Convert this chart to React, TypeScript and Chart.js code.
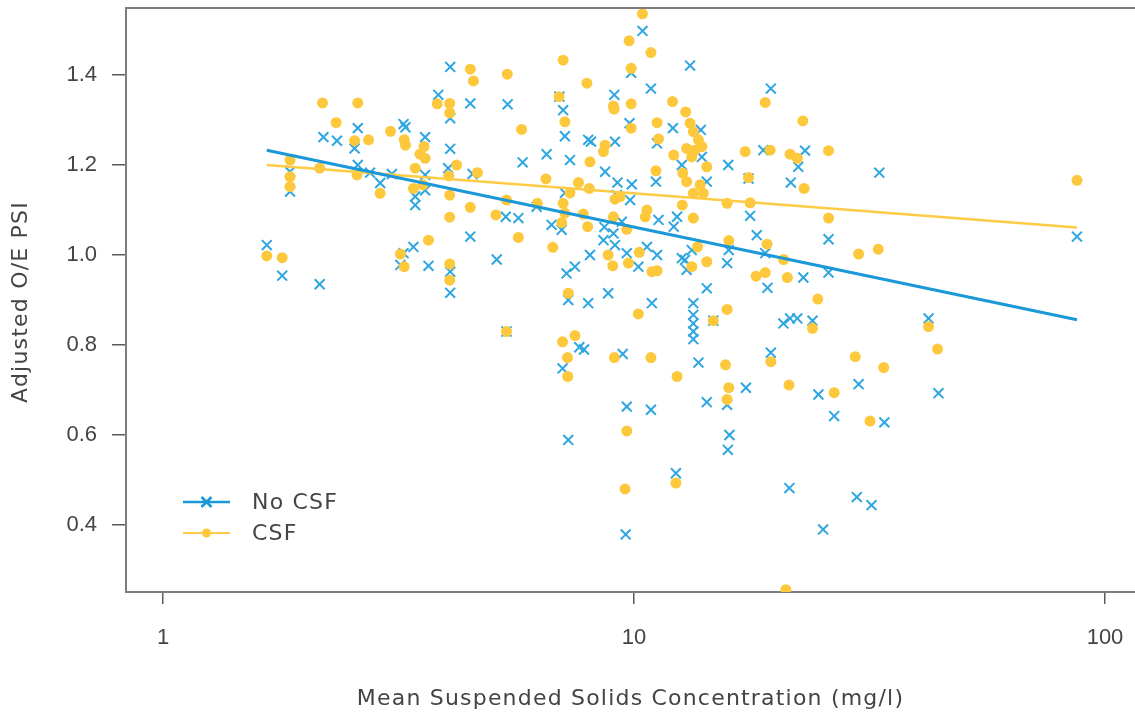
import React, { useEffect, useRef } from "react";
import { Chart, registerables } from "chart.js";

Chart.register(...registerables);

// ---- Data ----
const seriesNames = ["No CSF", "CSF"];

const noCsfX = [
  4.07, 3.84, 4.49, 4.07, 3.27, 3.24, 2.59, 2.19, 2.34, 3.6, 2.55, 4.07, 2.59, 2.75, 3.06, 2.89,
  1.86, 1.86, 3.6, 4.03, 4.54, 3.43, 3.43, 3.6, 4.49, 1.66, 3.4, 3.24, 3.19, 3.66, 1.79, 2.15,
  4.07, 4.07, 10.42, 13.15, 9.86, 10.86, 9.08, 5.39, 6.94, 7.07, 9.78, 12.09, 7.13, 7.99, 8.1,
  9.11, 11.19, 6.52, 7.31, 5.8, 8.68, 9.22, 9.89, 11.13, 12.63, 7.13, 9.81, 9.19, 5.34, 5.68,
  6.21, 6.68, 7.02, 8.65, 9.04, 9.42, 11.27, 12.34, 12.14, 5.11, 8.06, 8.61, 9.11, 9.65, 10.65,
  11.19, 7.49, 7.19, 10.21, 12.63, 12.93, 8.81, 10.91, 13.86, 13.93, 15.85, 18.81, 23.07, 22.32,
  21.52, 33.17, 17.5, 14.27, 17.64, 18.22, 25.88, 15.89, 15.76, 18.99, 13.26, 12.83, 14.27, 19.2,
  22.88, 25.88, 13.36, 19.52, 7.25, 7.99, 13.36, 13.36, 13.36, 13.36, 14.73, 20.75, 21.44, 22.21,
  23.93, 5.36, 7.65, 7.83, 7.05, 9.46, 13.7, 19.52, 24.63, 29.98, 17.28, 15.76, 14.27, 9.65,
  10.86, 7.25, 15.94, 15.82, 26.6, 34.0, 12.27, 21.37, 29.72, 31.93, 9.6, 25.2, 42.2, 44.3, 87.2,
];
const noCsfY = [
  1.418, 1.356, 1.337, 1.304, 1.284, 1.291, 1.282, 1.262, 1.254, 1.262, 1.237, 1.236, 1.2, 1.183,
  1.18, 1.16, 1.185, 1.141, 1.178, 1.193, 1.18, 1.13, 1.111, 1.144, 1.041, 1.022, 1.018, 1.004,
  0.978, 0.976, 0.954, 0.935, 0.963, 0.916, 1.498, 1.421, 1.405, 1.37, 1.356, 1.335, 1.352, 1.322,
  1.293, 1.282, 1.264, 1.256, 1.252, 1.252, 1.248, 1.224, 1.211, 1.206, 1.185, 1.161, 1.157,
  1.163, 1.2, 1.138, 1.122, 1.133, 1.085, 1.082, 1.107, 1.067, 1.056, 1.062, 1.048, 1.074, 1.078,
  1.085, 1.063, 0.99, 1.0, 1.033, 1.022, 1.004, 1.018, 1.0, 0.974, 0.959, 0.974, 0.993, 0.967,
  0.915, 0.893, 1.278, 1.218, 1.2, 1.233, 1.232, 1.196, 1.161, 1.183, 1.17, 1.163, 1.087, 1.044,
  1.035, 1.011, 0.982, 1.004, 1.011, 0.989, 0.926, 0.927, 0.95, 0.961, 0.893, 1.37, 0.9, 0.893,
  0.867, 0.848, 0.83, 0.813, 0.854, 0.848, 0.859, 0.859, 0.854, 0.83, 0.795, 0.79, 0.748, 0.78,
  0.761, 0.783, 0.69, 0.713, 0.705, 0.667, 0.673, 0.663, 0.656, 0.589, 0.6, 0.567, 0.642, 0.628,
  0.515, 0.482, 0.462, 0.444, 0.379, 0.39, 0.859, 0.693, 1.041,
];

const csfX = [
  4.49, 4.56, 2.18, 2.59, 3.82, 4.06, 4.06, 2.33, 3.04, 2.55, 2.73, 3.25, 3.27, 3.58, 3.51, 3.6,
  4.2, 1.86, 1.86, 1.86, 2.15, 2.58, 2.89, 3.43, 3.4, 3.56, 4.04, 4.06, 4.06, 4.49, 4.65, 3.66,
  1.66, 1.79, 3.19, 3.25, 4.06, 4.06, 10.42, 9.76, 10.86, 7.07, 9.86, 5.38, 7.94, 6.93, 9.04,
  9.07, 9.86, 12.07, 12.87, 7.13, 5.77, 9.86, 11.19, 11.27, 8.68, 8.61, 12.14, 8.06, 11.13, 12.69,
  12.93, 6.5, 7.62, 8.03, 7.31, 9.11, 9.34, 7.07, 5.36, 6.23, 5.09, 7.8, 7.13, 10.65, 10.56, 12.66,
  13.36, 9.04, 7.02, 7.97, 9.65, 5.68, 6.72, 8.81, 10.26, 9.01, 9.73, 10.91, 11.19, 13.26, 7.25,
  13.64, 18.99, 22.82, 13.15, 13.36, 13.7, 12.93, 13.47, 13.93, 13.26, 14.27, 13.81, 13.36, 14.03,
  17.22, 19.45, 21.44, 22.21, 25.88, 17.5, 22.97, 15.76, 17.64, 25.88, 15.89, 19.16, 20.77, 14.27,
  18.16, 18.99, 21.16, 29.98, 33.0, 24.56, 15.76, 10.21, 14.73, 23.93, 5.36, 7.05, 7.49, 7.22,
  7.23, 9.08, 10.86, 15.64, 12.34, 19.52, 29.49, 33.9, 21.33, 26.6, 15.89, 15.76, 9.65, 31.7,
  12.27, 9.57, 21.0, 42.2, 44.1, 87.2,
];
const csfY = [
  1.413, 1.387, 1.338, 1.338, 1.336, 1.337, 1.316, 1.294, 1.275, 1.254, 1.256, 1.256, 1.244,
  1.241, 1.224, 1.215, 1.2, 1.211, 1.174, 1.152, 1.193, 1.178, 1.137, 1.193, 1.148, 1.156, 1.176,
  1.133, 1.084, 1.106, 1.183, 1.033, 0.998, 0.994, 1.002, 0.974, 0.98, 0.944, 1.536, 1.476, 1.45,
  1.433, 1.415, 1.402, 1.382, 1.352, 1.331, 1.324, 1.336, 1.341, 1.318, 1.296, 1.279, 1.282,
  1.294, 1.258, 1.244, 1.23, 1.222, 1.207, 1.187, 1.182, 1.163, 1.169, 1.161, 1.148, 1.138,
  1.124, 1.13, 1.115, 1.122, 1.115, 1.089, 1.091, 1.093, 1.1, 1.085, 1.111, 1.082, 1.085, 1.072,
  1.063, 1.057, 1.039, 1.017, 1.0, 1.006, 0.976, 0.982, 0.963, 0.965, 0.974, 0.915, 1.018, 1.339,
  1.298, 1.293, 1.274, 1.256, 1.237, 1.233, 1.241, 1.218, 1.196, 1.156, 1.137, 1.137, 1.23, 1.233,
  1.224, 1.215, 1.232, 1.172, 1.148, 1.115, 1.116, 1.082, 1.032, 1.024, 0.99, 0.985, 0.953, 0.961,
  0.95, 1.002, 1.013, 0.902, 0.879, 0.869, 0.854, 0.837, 0.83, 0.807, 0.821, 0.772, 0.73, 0.772,
  0.772, 0.756, 0.73, 0.763, 0.774, 0.75, 0.711, 0.694, 0.705, 0.679, 0.609, 0.631, 0.493, 0.48,
  0.256, 0.841, 0.791, 1.166,
];

// fitted regression lines (end points)
const fitX = [1.66, 87.2];
const noCsfFitY = [1.233, 0.856];
const csfFitY = [1.2, 1.061];

// axes
const xTicks = [1, 10, 100];
const yTicks = [0.4, 0.6, 0.8, 1.0, 1.2, 1.4];
const xRange = [0.834, 115.8];
const yRange = [0.251, 1.549];
const xTitle = "Mean Suspended Solids Concentration (mg/l)";
const yTitle = "Adjusted O/E PSI";

// ---- Styles ----
const BLUE_LINE = "#1a98d8";
const BLUE_PT = "#2fa6e0";
const YELLOW = "#fdc83c";
const YELLOW_LINE = "#fdcb45";
const AXIS = "#7d7d7d";
const TEXT = "#444444";
const FONT = "'DejaVu Sans', sans-serif";
const TICK_FONT = "'Liberation Sans', Arial, sans-serif";

const pts = (xs: number[], ys: number[]) => xs.map((x, i) => ({ x, y: ys[i] }));

const frameLegendPlugin = {
  id: "frameLegend",
  afterDraw(chart: any) {
    const { ctx, chartArea } = chart;
    ctx.save();
    // top frame line
    ctx.strokeStyle = AXIS;
    ctx.lineWidth = 2;
    ctx.beginPath();
    ctx.moveTo(chartArea.left - 1, chartArea.top);
    ctx.lineTo(chartArea.right, chartArea.top);
    ctx.stroke();

    // axis titles
    ctx.fillStyle = TEXT;
    ctx.font = `22px ${FONT}`;
    (ctx as any).letterSpacing = "1.2px";
    ctx.textAlign = "center";
    ctx.textBaseline = "middle";
    ctx.fillText(xTitle, (chartArea.left + chartArea.right) / 2, chart.height - 13);
    ctx.save();
    ctx.translate(21, (chartArea.top + chartArea.bottom) / 2 + 2);
    ctx.rotate(-Math.PI / 2);
    ctx.fillText(yTitle, 0, 0);
    ctx.restore();

    // inset legend
    const x0 = chartArea.left + 57;
    const x1 = x0 + 47;
    const mx = (x0 + x1) / 2;
    const rows = [
      { y: chartArea.bottom - 90, color: BLUE_LINE, lw: 2.5, kind: "x", label: seriesNames[0] },
      { y: chartArea.bottom - 59, color: YELLOW_LINE, lw: 2, kind: "o", label: seriesNames[1] },
    ];
    rows.forEach((r) => {
      ctx.strokeStyle = r.color;
      ctx.lineWidth = r.lw;
      ctx.beginPath();
      ctx.moveTo(x0, r.y);
      ctx.lineTo(x1, r.y);
      ctx.stroke();
      if (r.kind === "x") {
        ctx.lineWidth = 2.5;
        ctx.beginPath();
        ctx.moveTo(mx - 5, r.y - 5);
        ctx.lineTo(mx + 5, r.y + 5);
        ctx.moveTo(mx - 5, r.y + 5);
        ctx.lineTo(mx + 5, r.y - 5);
        ctx.stroke();
      } else {
        ctx.fillStyle = YELLOW;
        ctx.beginPath();
        ctx.arc(mx, r.y, 4.5, 0, Math.PI * 2);
        ctx.fill();
      }
      ctx.fillStyle = TEXT;
      ctx.font = `22px ${FONT}`;
      ctx.textAlign = "left";
      ctx.textBaseline = "middle";
      ctx.fillText(r.label, x0 + 69, r.y + 1);
    });
    (ctx as any).letterSpacing = "0px";
    ctx.restore();
  },
};

export default function App() {
  const ref = useRef<HTMLCanvasElement | null>(null);

  useEffect(() => {
    if (!ref.current) return;
    const chart = new Chart(ref.current, {
      type: "scatter",
      data: {
        datasets: [
          {
            type: "line",
            label: seriesNames[0] + " fit",
            data: pts(fitX, noCsfFitY),
            borderColor: BLUE_LINE,
            borderWidth: 3,
            pointRadius: 0,
            fill: false,
            order: 0,
          },
          {
            type: "line",
            label: seriesNames[1] + " fit",
            data: pts(fitX, csfFitY),
            borderColor: YELLOW_LINE,
            borderWidth: 2.5,
            pointRadius: 0,
            fill: false,
            order: 1,
          },
          {
            label: seriesNames[1],
            data: pts(csfX, csfY),
            pointStyle: "circle",
            pointRadius: 5.5,
            pointBackgroundColor: YELLOW,
            pointBorderWidth: 0,
            pointBorderColor: YELLOW,
            clip: 0,
            order: 2,
          },
          {
            label: seriesNames[0],
            data: pts(noCsfX, noCsfY),
            pointStyle: "crossRot",
            pointRadius: 7,
            pointBorderColor: BLUE_PT,
            pointBorderWidth: 2,
            clip: 0,
            order: 3,
          },
        ],
      },
      options: {
        responsive: false,
        animation: false,
        events: [],
        layout: { autoPadding: false, padding: { top: 8, right: 0, left: 0, bottom: 0 } },
        plugins: {
          legend: { display: false },
          tooltip: { enabled: false },
        },
        scales: {
          x: {
            type: "logarithmic",
            min: xRange[0],
            max: xRange[1],
            afterBuildTicks: (s: any) => {
              s.ticks = xTicks.map((v) => ({ value: v }));
            },
            afterFit: (s: any) => {
              s.height = 120;
              s.paddingLeft = 0;
              s.paddingRight = 0;
            },
            ticks: {
              autoSkip: false,
              maxRotation: 0,
              padding: 21,
              color: TEXT,
              font: { family: TICK_FONT, size: 22 },
              callback: (v: any) => String(v),
            },
            grid: {
              display: true,
              drawOnChartArea: false,
              drawTicks: true,
              tickLength: 12,
              color: "#5a5a5a",
              lineWidth: 1.5,
            },
            border: { display: true, color: AXIS, width: 2 },
            title: { display: false },
          },
          y: {
            type: "linear",
            min: yRange[0],
            max: yRange[1],
            afterBuildTicks: (s: any) => {
              s.ticks = yTicks.map((v) => ({ value: v }));
            },
            afterFit: (s: any) => {
              s.width = 126;
              s.paddingTop = 0;
              s.paddingBottom = 0;
            },
            ticks: {
              autoSkip: false,
              padding: 15,
              color: TEXT,
              font: { family: TICK_FONT, size: 22 },
              callback: (v: any) => Number(v).toFixed(1),
            },
            grid: {
              display: true,
              drawOnChartArea: false,
              drawTicks: true,
              tickLength: 14,
              color: "#5a5a5a",
              lineWidth: 1.5,
            },
            border: { display: true, color: AXIS, width: 2 },
            title: { display: false },
          },
        },
      },
      plugins: [frameLegendPlugin],
    } as any);
    return () => chart.destroy();
  }, []);

  return (
    <div
      style={{
        position: "fixed",
        left: 0,
        top: 0,
        width: 1135,
        height: 712,
        background: "#ffffff",
      }}
    >
      <canvas ref={ref} width={1135} height={712} />
    </div>
  );
}
